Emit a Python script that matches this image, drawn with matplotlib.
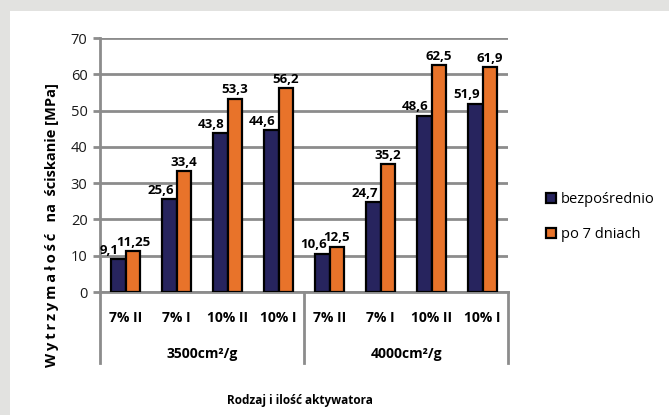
import matplotlib.pyplot as plt
import matplotlib.transforms as mtransforms
from matplotlib.patches import Rectangle

# wyniki badań wytrzymałości
activators = ['7% II', '7% I', '10% II', '10% I', '7% II', '7% I', '10% II', '10% I']
fineness = ['3500cm²/g', '4000cm²/g']
immediate = [9.1, 25.6, 43.8, 44.6, 10.6, 24.7, 48.6, 51.9]
after_7_days = [11.25, 33.4, 53.3, 56.2, 12.5, 35.2, 62.5, 61.9]
immediate_labels = ['9,1', '25,6', '43,8', '44,6', '10,6', '24,7', '48,6', '51,9']
after_labels = ['11,25', '33,4', '53,3', '56,2', '12,5', '35,2', '62,5', '61,9']
series_names = ['bezpośrednio', 'po 7 dniach']

plt.rcParams['font.family'] = ['Open Sans', 'DejaVu Sans']

W, H = 669, 415
fig = plt.figure(figsize=(W / 100, H / 100), dpi=100)
fig.patch.set_facecolor('#e2e2e0')
fig.patches.append(Rectangle((10 / W, 0), 1, 1 - 11 / H, transform=fig.transFigure,
                             facecolor='white', edgecolor='none', zorder=-5))

ax = fig.add_axes([100 / W, (H - 292) / H, 408 / W, 254 / H])
ax.set_facecolor('none')

grid_c = '#8c8c8c'
navy = '#27245e'
orange = '#e8732a'
bw = 0.29

xs = [i + 0.5 for i in range(len(activators))]
ax.bar([x - bw / 2 for x in xs], immediate, bw, color=navy, edgecolor='black',
       linewidth=1.6, zorder=3, label=series_names[0])
ax.bar([x + bw / 2 for x in xs], after_7_days, bw, color=orange, edgecolor='black',
       linewidth=1.6, zorder=3, label=series_names[1])

# etykiety wartości; granatowe lekko w lewo, żeby nie nachodziły na pomarańczowe
for x, v, s in zip(xs, immediate, immediate_labels):
    ax.text(x - bw / 2 - 0.17, v + 0.6, s, ha='center', va='bottom', fontsize=9.5,
            fontweight='bold', zorder=4)
for x, v, s in zip(xs, after_7_days, after_labels):
    ax.text(x + bw / 2, v + 0.6, s, ha='center', va='bottom', fontsize=9.5,
            fontweight='bold', zorder=4)

ax.set_xlim(0, len(activators))
ax.set_ylim(0, 70)
ax.set_yticks(range(0, 71, 10))
ax.yaxis.grid(True, color=grid_c, linewidth=2, zorder=0)
ax.tick_params(axis='y', length=5, width=2, color=grid_c, labelsize=10.5,
               labelcolor='#1a1a1a', pad=4)
ax.tick_params(axis='x', length=0)
ax.set_xticks([])
for side in ['top', 'right']:
    ax.spines[side].set_visible(False)
ax.spines['left'].set_color(grid_c)
ax.spines['left'].set_linewidth(2)
ax.spines['bottom'].set_color(grid_c)
ax.spines['bottom'].set_linewidth(2)

# kategorie na osi x
trans = mtransforms.blended_transform_factory(ax.transData, ax.transAxes)
px = 1 / 254
for x0 in [0, 4, 8]:
    ax.plot([x0, x0], [0, -71 * px], transform=trans, color=grid_c, linewidth=2,
            clip_on=False)
for x, s in zip(xs, activators):
    ax.text(x, -26 * px, s, transform=trans, ha='center', va='center',
            fontsize=10, fontweight='bold')
for k, s in enumerate(fineness):
    ax.text(2 + 4 * k, -62 * px, s, transform=trans, ha='center', va='center',
            fontsize=10, fontweight='bold')

fig.text(300 / W, 1 - 400 / H, 'Rodzaj i ilość aktywatora', ha='center', va='center',
         fontsize=8.5, fontweight='bold')
ylab = '\u2009'.join('Wytrzymałość') + '   na  ściskanie [MPa]'
fig.text(52 / W, 1 - 225 / H, ylab, rotation=90, ha='center', va='center',
         fontsize=10.5, fontweight='bold')

ax.legend(loc='center left', bbox_to_anchor=(533 / W, 1 - 217 / H),
          bbox_transform=fig.transFigure, frameon=False, fontsize=10.5,
          handlelength=0.65, handleheight=0.65, handletextpad=0.35, labelspacing=1.35)

fig.savefig('out.png', dpi=100)
